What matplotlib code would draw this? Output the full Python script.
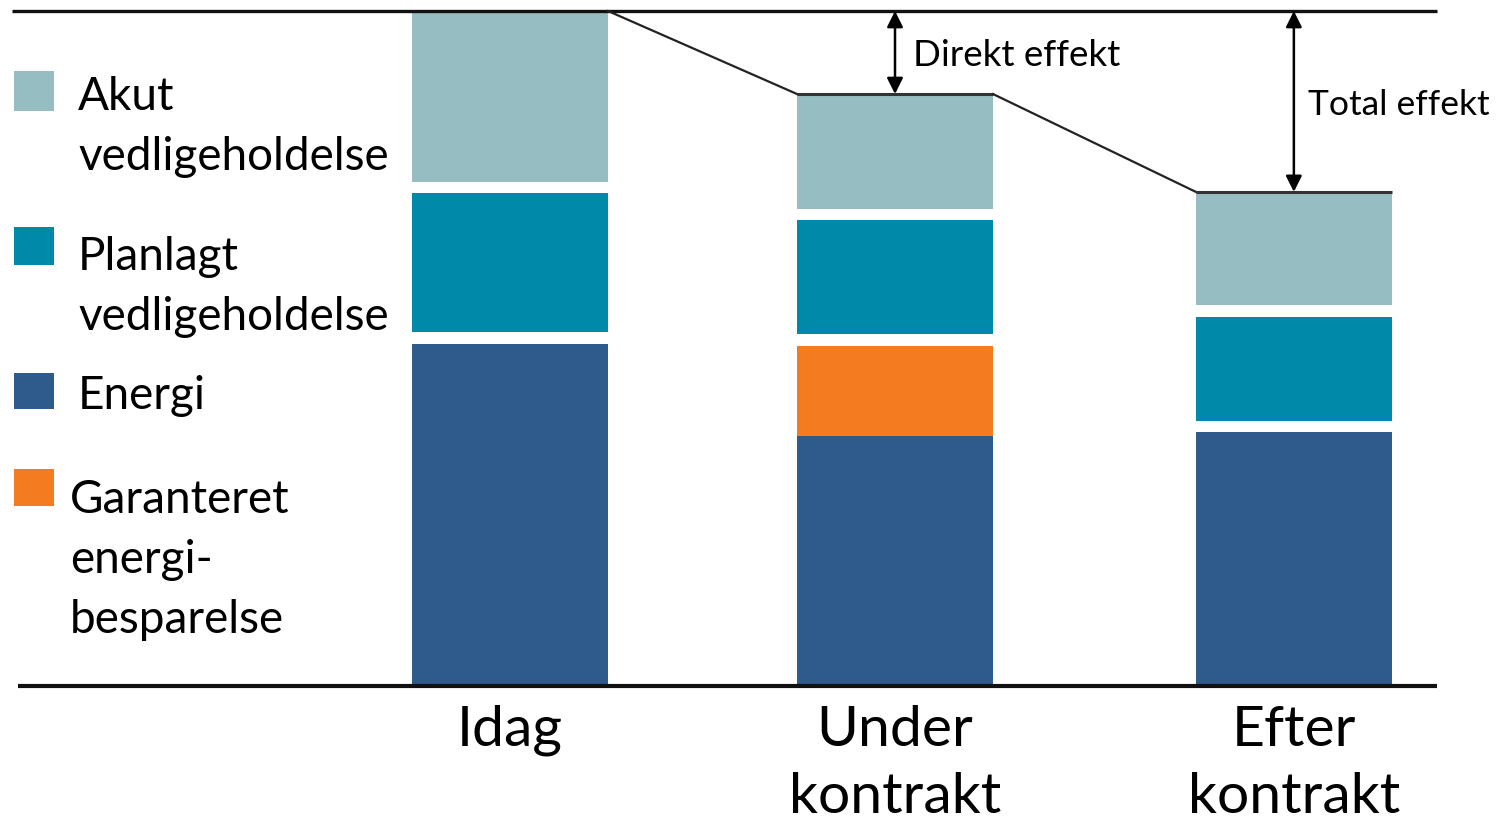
import matplotlib.pyplot as plt
from matplotlib.patches import Rectangle

plt.rcParams['font.family'] = ['Lato', 'DejaVu Sans']

# data (Idag total = 100)
categories = ['Idag', 'Under\nkontrakt', 'Efter\nkontrakt']
energi = [50.7, 37.0, 37.6]
garanteret = [0.0, 13.4, 0.0]
planlagt = [22.3, 18.6, 17.1]
akut = [27.0, 18.7, 18.5]

series_names = ['Energi', 'Garanteret energibesparelse', 'Planlagt vedligeholdelse', 'Akut vedligeholdelse']
series_values = [energi, garanteret, planlagt, akut]
colors = ['#2e5a8c', '#f47b20', '#0089a8', '#96bec2']
gap_before = [False, False, True, True]

xpos = [0, 1, 2.036]
width = 0.509
gap = 1.7

fig = plt.figure(figsize=(15.02, 8.2), dpi=100)
ax = fig.add_axes([0, 0, 1, 1])
ax.set_xlim(-510 / 385, (1502 - 510) / 385)
ax.set_ylim(-(820 - 687) / 6.75, 100 + 12 / 6.75)
ax.axis('off')

# stacked bars, white gap under the maintenance segments
bottoms = [0.0, 0.0, 0.0]
for vals, col, g in zip(series_values, colors, gap_before):
    for i, v in enumerate(vals):
        if v <= 0:
            continue
        off = gap if g else 0
        ax.bar(xpos[i], v - off, width, bottom=bottoms[i] + off, color=col, linewidth=0)
        bottoms[i] += v

totals = [sum(t) for t in zip(*series_values)]

# top and base lines
ax.hlines(totals[0], -1.2935, 2.4078, color='#111111', lw=2.4)
ax.hlines(0, -1.278, 2.4078, color='#111111', lw=3.0)

# connecting lines between bar tops
for i in range(1, len(xpos)):
    ax.plot([xpos[i - 1] + width / 2, xpos[i] - width / 2], [totals[i - 1], totals[i]],
            color='#222222', lw=1.6)
    ax.hlines(totals[i], xpos[i] - width / 2, xpos[i] + width / 2, color='#333333', lw=2.2)

# effect arrows
for i in (1, 2):
    ax.annotate('', xy=(xpos[i], totals[0]), xytext=(xpos[i], totals[i]),
                arrowprops=dict(arrowstyle='<|-|>', color='black', lw=1.8,
                                mutation_scale=24, shrinkA=0, shrinkB=0))
ax.text(1.047, (687 - 66) / 6.75, 'Direkt effekt', fontsize=26.5, ha='left', va='baseline')
ax.text(2.073, (687 - 115) / 6.75, 'Total effekt', fontsize=25.5, ha='left', va='baseline')

# category labels
for x, lab in zip(xpos, categories):
    ax.text(x, (687 - 705) / 6.75, lab, fontsize=41, ha='center', va='top', linespacing=1.38)

# legend drawn by hand
legend_boxes = [(72, 112), (228, 266), (374, 410), (470, 507)]
legend_lines = [
    (['Akut', 'vedligeholdelse'], 78, 110),
    (['Planlagt', 'vedligeholdelse'], 78, 270),
    (['Energi'], 78, 409),
    (['Garanteret', 'energi-', 'besparelse'], 70, 513),
]
leg_colors = ['#96bec2', '#0089a8', '#2e5a8c', '#f47b20']
for (y0, y1), col in zip(legend_boxes, leg_colors):
    fig.patches.append(Rectangle((14 / 1502, 1 - y1 / 820), 40 / 1502, (y1 - y0) / 820,
                                 transform=fig.transFigure, color=col, lw=0))
for lines, x, base in legend_lines:
    for k, s in enumerate(lines):
        fig.text(x / 1502, 1 - (base + 60 * k) / 820, s, fontsize=33, ha='left', va='baseline')

fig.savefig('out.png', dpi=100)
